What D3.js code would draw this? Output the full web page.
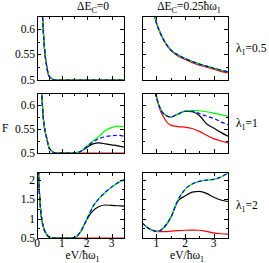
<!DOCTYPE html>
<html>
<head>
<meta charset="utf-8">
<script src="https://cdn.jsdelivr.net/npm/d3@7"></script>
<style>
  body { margin: 0; background: #fff; }
  svg { display: block; }
</style>
</head>
<body>
<svg id="chart" width="269" height="263"></svg>
<script>
// x grids (eV / hbar w1)
const xLeft1 = [0.15, 0.2, 0.25, 0.3, 0.4, 0.5, 0.75, 1, 1.5, 2, 2.5, 3, 3.5];
const xLeft2 = [0.15, 0.2, 0.25, 0.3, 0.4, 0.5, 0.75, 1, 1.25, 1.5, 1.75, 2, 2.25, 2.5, 2.75, 3, 3.25, 3.5];
const xLeft3 = [0.05, 0.1, 0.15, 0.2, 0.25, 0.3, 0.4, 0.5, 0.75, 1, 1.25, 1.5, 1.75, 2, 2.25, 2.5, 2.75, 3, 3.25, 3.5];
const xRight = [0.5, 0.75, 0.9, 1, 1.1, 1.25, 1.5, 1.75, 2, 2.25, 2.5, 2.75, 3, 3.25, 3.5];

// dE_C = 0, lambda1 = 0.5 : all curves coincide
const left1All = [0.70, 0.645, 0.598, 0.562, 0.524, 0.506, 0.5, 0.5, 0.5, 0.5, 0.5, 0.5, 0.5];

// dE_C = 0, lambda1 = 1
const left2Black = [0.66, 0.615, 0.575, 0.553, 0.529, 0.509, 0.5, 0.5, 0.5, 0.5, 0.503, 0.511, 0.519, 0.521, 0.519, 0.517, 0.515, 0.512];
const left2Red   = [0.66, 0.615, 0.575, 0.553, 0.529, 0.509, 0.5, 0.5, 0.5, 0.5, 0.5, 0.5, 0.5, 0.5, 0.5, 0.5, 0.5, 0.5];
const left2Green = [0.66, 0.615, 0.575, 0.553, 0.529, 0.509, 0.5, 0.5, 0.5, 0.5, 0.503, 0.514, 0.525, 0.535, 0.547, 0.553, 0.556, 0.555];
const left2Blue  = [0.66, 0.615, 0.575, 0.553, 0.529, 0.509, 0.5, 0.5, 0.5, 0.5, 0.503, 0.513, 0.523, 0.530, 0.534, 0.536, 0.537, 0.535];

// dE_C = 0, lambda1 = 2
const left3Black = [2.4, 1.65, 1.2, 0.95, 0.8, 0.7, 0.58, 0.52, 0.5, 0.5, 0.5, 0.51, 0.66, 0.97, 1.2, 1.31, 1.35, 1.34, 1.33, 1.32];
const left3Red   = [2.4, 1.65, 1.2, 0.95, 0.8, 0.7, 0.58, 0.52, 0.5, 0.5, 0.5, 0.5, 0.5, 0.5, 0.5, 0.5, 0.5, 0.5, 0.5, 0.5];
const left3Green = [2.4, 1.65, 1.2, 0.95, 0.8, 0.7, 0.58, 0.52, 0.5, 0.5, 0.5, 0.51, 0.66, 0.98, 1.31, 1.52, 1.68, 1.81, 1.92, 2.0];
const left3Blue  = left3Green;

// dE_C = 0.25 hbar w1, lambda1 = 0.5
const right1All = [0.78, 0.68, 0.635, 0.612, 0.597, 0.579, 0.559, 0.549, 0.542, 0.536, 0.531, 0.527, 0.523, 0.519, 0.516];
const right1Red = [0.78, 0.68, 0.635, 0.612, 0.596, 0.578, 0.558, 0.547, 0.540, 0.534, 0.529, 0.525, 0.521, 0.517, 0.514];

// dE_C = 0.25 hbar w1, lambda1 = 1
const right2Black = [0.8, 0.7, 0.64, 0.617, 0.598, 0.582, 0.575, 0.581, 0.587, 0.586, 0.578, 0.561, 0.552, 0.543, 0.535];
const right2Red   = [0.85, 0.72, 0.65, 0.62, 0.595, 0.575, 0.558, 0.555, 0.554, 0.551, 0.545, 0.537, 0.530, 0.525, 0.521];
const right2Green = [0.8, 0.7, 0.64, 0.617, 0.598, 0.582, 0.575, 0.581, 0.587, 0.589, 0.588, 0.586, 0.583, 0.580, 0.577];
const right2Blue  = [0.8, 0.7, 0.64, 0.617, 0.598, 0.582, 0.575, 0.581, 0.587, 0.587, 0.582, 0.577, 0.572, 0.565, 0.559];

// dE_C = 0.25 hbar w1, lambda1 = 2
const right3Black = [0.886, 0.74, 0.69, 0.67, 0.68, 0.76, 1.02, 1.45, 1.58, 1.68, 1.70, 1.65, 1.55, 1.48, 1.44];
const right3Red   = [0.886, 0.74, 0.69, 0.67, 0.665, 0.665, 0.675, 0.69, 0.70, 0.705, 0.70, 0.67, 0.63, 0.61, 0.60];
const right3Green = [0.886, 0.74, 0.69, 0.67, 0.68, 0.76, 1.02, 1.47, 1.75, 1.89, 1.96, 1.99, 2.01, 2.07, 2.17];
const right3Blue  = right3Green;

const yTicksSmall = [0.5, 0.55, 0.6];
const yTicksLarge = [0.5, 1, 1.5, 2];
const xTicksLeft = [0, 1, 2, 3];
const xTicksRight = [1, 2, 3];
const rowLabels = ["0.5", "1", "2"];

const BLACK = "#000000", RED = "#ff0000", GREEN = "#00ff00", BLUE = "#0000ff";
const FONT = "'Liberation Serif', 'Times New Roman', 'DejaVu Serif', serif";

const svg = d3.select("#chart").attr("font-family", FONT);
svg.append("rect").attr("width", 269).attr("height", 263).attr("fill", "#fff");

const cols = [
  { x0: 37, x1: 124, domain: [0, 3.5], ticks: xTicksLeft, minor: [0.5, 1.5, 2.5] },
  { x0: 142, x1: 228, domain: [0.5, 3.5], ticks: xTicksRight, minor: [1.5, 2.5] },
];
const rows = [
  { y0: 16, y1: 80, domain: [0.5, 0.625], ticks: yTicksSmall, minor: [0.525, 0.575], fmt: d3.format(".2~f") },
  { y0: 93, y1: 153, domain: [0.5, 0.625], ticks: yTicksSmall, minor: [0.525, 0.575], fmt: d3.format(".2~f") },
  { y0: 172, y1: 238, domain: [0.5, 2.2], ticks: yTicksLarge, minor: [0.75, 1.25, 1.75], fmt: d3.format(".1~f") },
];

const panels = [
  { c: 0, r: 0, x: xLeft1, black: left1All, red: left1All, green: left1All, blue: left1All },
  { c: 0, r: 1, x: xLeft2, black: left2Black, red: left2Red, green: left2Green, blue: left2Blue },
  { c: 0, r: 2, x: xLeft3, black: left3Black, red: left3Red, green: left3Green, blue: left3Blue },
  { c: 1, r: 0, x: xRight, black: right1All, red: right1Red, green: right1All, blue: right1All },
  { c: 1, r: 1, x: xRight, black: right2Black, red: right2Red, green: right2Green, blue: right2Blue },
  { c: 1, r: 2, x: xRight, black: right3Black, red: right3Red, green: right3Green, blue: right3Blue },
];

panels.forEach((p, i) => {
  const col = cols[p.c], row = rows[p.r];
  const x = d3.scaleLinear().domain(col.domain).range([col.x0, col.x1]);
  const y = d3.scaleLinear().domain(row.domain).range([row.y1, row.y0]);

  svg.append("clipPath").attr("id", "clip" + i)
    .append("rect")
    .attr("x", col.x0).attr("y", row.y0)
    .attr("width", col.x1 - col.x0).attr("height", row.y1 - row.y0);

  const g = svg.append("g");
  const plot = g.append("g").attr("clip-path", `url(#clip${i})`);

  const line = d3.line()
    .x((d) => x(d[0]))
    .y((d) => y(d[1]))
    .curve(d3.curveMonotoneX);

  const series = [
    { v: p.black, color: BLACK },
    { v: p.red, color: RED },
    { v: p.green, color: GREEN },
    { v: p.blue, color: BLUE, dash: "4,2.5" },
  ];
  series.forEach((s) => {
    plot.append("path")
      .attr("d", line(d3.zip(p.x, s.v)))
      .attr("fill", "none")
      .attr("stroke", s.color)
      .attr("stroke-width", 1.2)
      .attr("stroke-dasharray", s.dash || null);
  });

  // ticks, inward on all four sides
  const tk = g.append("g").attr("stroke", "#000").attr("stroke-width", 1)
    .attr("shape-rendering", "crispEdges");
  const xt = col.ticks.map((t) => [t, 4]).concat(col.minor.map((t) => [t, 2.5]));
  xt.forEach(([t, len]) => {
    const px = Math.round(x(t)) + 0.5;
    tk.append("line").attr("x1", px).attr("x2", px).attr("y1", row.y1).attr("y2", row.y1 - len);
    tk.append("line").attr("x1", px).attr("x2", px).attr("y1", row.y0).attr("y2", row.y0 + len);
  });
  const yt = row.ticks.map((t) => [t, 4]).concat(row.minor.map((t) => [t, 2.5]));
  yt.forEach(([t, len]) => {
    const py = Math.round(y(t)) + 0.5;
    tk.append("line").attr("x1", col.x0).attr("x2", col.x0 + len).attr("y1", py).attr("y2", py);
    tk.append("line").attr("x1", col.x1).attr("x2", col.x1 - len).attr("y1", py).attr("y2", py);
  });

  g.append("rect")
    .attr("x", col.x0 + 0.5).attr("y", row.y0 + 0.5)
    .attr("width", col.x1 - col.x0).attr("height", row.y1 - row.y0)
    .attr("fill", "none").attr("stroke", "#000").attr("stroke-width", 1)
    .attr("shape-rendering", "crispEdges");

  // y tick labels on left column
  if (p.c === 0) {
    row.ticks.forEach((t) => {
      g.append("text").attr("x", col.x0 - 2).attr("y", y(t) + 4)
        .attr("text-anchor", "end").attr("font-size", 11.5).text(row.fmt(t));
    });
  }
  // x tick labels + title on bottom row
  if (p.r === 2) {
    col.ticks.forEach((t) => {
      g.append("text").attr("x", x(t)).attr("y", 246.5)
        .attr("text-anchor", "middle").attr("font-size", 11.5).text(t);
    });
    const lab = g.append("text").attr("x", (col.x0 + col.x1) / 2 + 2).attr("y", 259)
      .attr("text-anchor", "middle").attr("font-size", 11.5);
    lab.append("tspan").text("eV/ħω");
    lab.append("tspan").attr("font-size", 8).attr("dy", 2.5).text("1");
  }
});

// column titles
const t1 = svg.append("text").attr("x", 93).attr("y", 10).attr("text-anchor", "middle").attr("font-size", 11.5);
t1.append("tspan").text("ΔE");
t1.append("tspan").attr("font-size", 8).attr("dy", 3).text("C");
t1.append("tspan").attr("dy", -3).text("=0");

const t2 = svg.append("text").attr("x", 189).attr("y", 10).attr("text-anchor", "middle").attr("font-size", 11.5);
t2.append("tspan").text("ΔE");
t2.append("tspan").attr("font-size", 8).attr("dy", 3).text("C");
t2.append("tspan").attr("dy", -3).text("=0.25ħω");
t2.append("tspan").attr("font-size", 8).attr("dy", 3).text("1");

// row labels
rows.forEach((row, i) => {
  const t = svg.append("text").attr("x", 236).attr("y", (row.y0 + row.y1) / 2 + 4).attr("font-size", 11.5);
  t.append("tspan").text("λ");
  t.append("tspan").attr("font-size", 8).attr("dy", 3).text("1");
  t.append("tspan").attr("dy", -3).text("=" + rowLabels[i]);
});

svg.append("text").attr("x", 2).attr("y", 132).attr("font-size", 11.5).text("F");
</script>
</body>
</html>
